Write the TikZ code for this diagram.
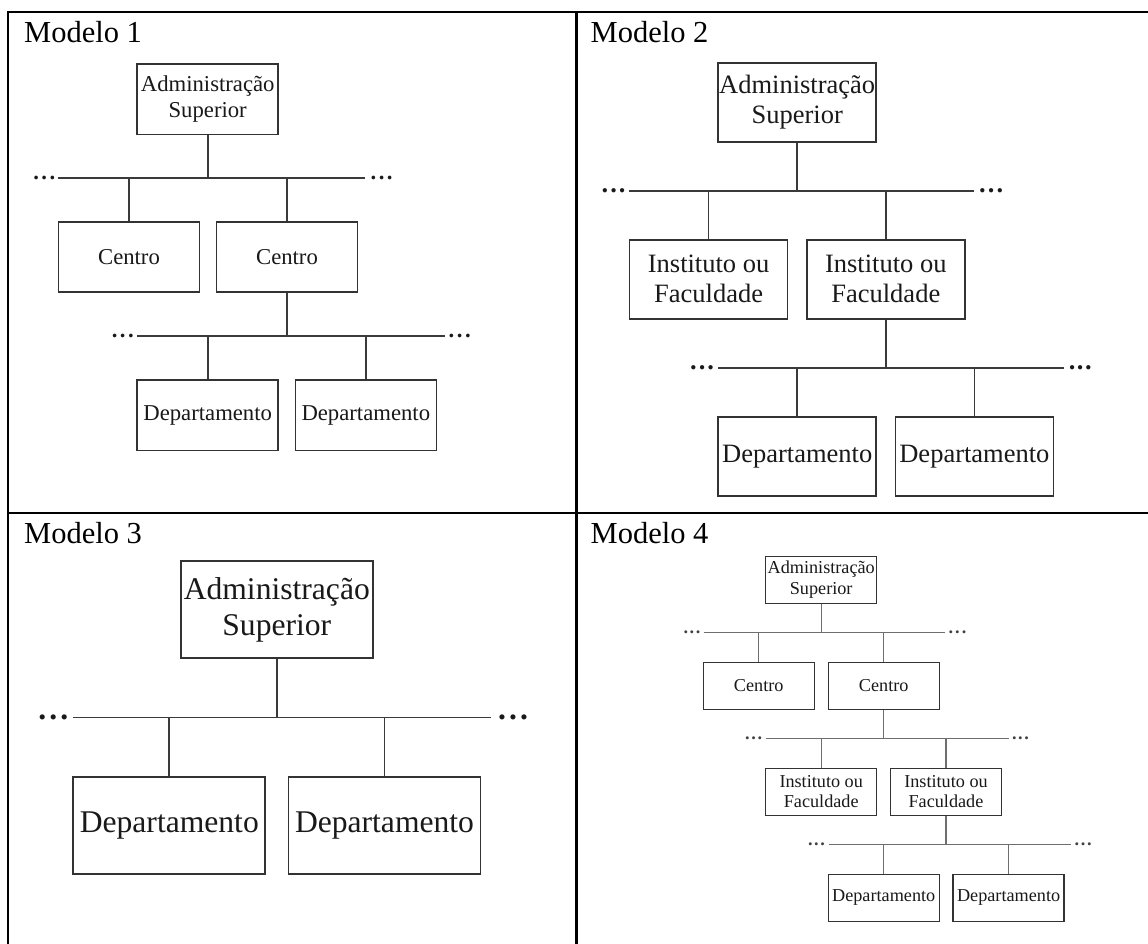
\documentclass[tikz,border=0pt]{standalone}
\usepackage{fontspec}
\setmainfont{Liberation Serif}
\usetikzlibrary{calc}

\definecolor{boxgray}{HTML}{333333}
\definecolor{linkgray}{HTML}{3A3A3A}
\definecolor{linkgrayD}{HTML}{6E6E6E}

\tikzset{
  frame/.style={line width=2.6pt, black},
  title/.style={anchor=base west, inner sep=0pt, font=\fontsize{30.5}{34}\selectfont},
  orgbox/.style={draw=boxgray, rectangle, inner sep=0pt, align=center, text=black!90},
  boxA/.style={orgbox, line width=1.6pt, minimum width=141pt, minimum height=70.5pt, font=\fontsize{22.7}{26}\selectfont},
  boxB/.style={orgbox, line width=1.7pt, minimum width=158pt, minimum height=79pt, font=\fontsize{26.5}{30}\selectfont},
  boxC/.style={orgbox, line width=1.8pt, minimum width=192pt, minimum height=97pt, font=\fontsize{31.6}{36}\selectfont},
  boxD/.style={orgbox, line width=1.3pt, minimum width=111pt, minimum height=47pt, font=\fontsize{18.2}{20.5}\selectfont},
  linkA/.style={draw=linkgray, line width=1.6pt},
  linkB/.style={draw=linkgray, line width=1.7pt},
  linkC/.style={draw=linkgray, line width=1.8pt},
  linkD/.style={draw=linkgrayD, line width=1.3pt},
  dotsA/.style={inner sep=0pt, text=black!90, font=\bfseries\fontsize{22.7}{26}\selectfont},
  dotsB/.style={inner sep=0pt, text=black!90, font=\bfseries\fontsize{26.5}{30}\selectfont},
  dotsC/.style={inner sep=0pt, text=black!90, font=\bfseries\fontsize{31.6}{36}\selectfont},
  dotsD/.style={inner sep=0pt, text=black!75, font=\bfseries\fontsize{18.2}{20.5}\selectfont},
}

% three spread full stops of a given width
\newcommand{\spreaddots}[1]{\makebox[#1][s]{.\hfill.\hfill.}}

\begin{document}
\begin{tikzpicture}[x=1pt, y=-1pt]
\useasboundingbox (0,0) rectangle (1148,944);
\fill[white] (0,0) rectangle (1148,944);

% ---------- table frame ----------
\draw[frame] (8,944) -- (8,12) -- (1148,12);
\draw[frame] (576.5,12) -- (576.5,944);
\draw[frame] (8,513) -- (1148,513);

% ---------- titles ----------
\node[title] (t1) at (24,43) {Modelo 1};
\node[title] (t2) at (590.5,43) {Modelo 2};
\node[title] (t3) at (24,543) {Modelo 3};
\node[title] (t4) at (590.5,543) {Modelo 4};

% ================= Modelo 1 =================
\node[boxA] (a1) at (207.7,99.2) {Administração\\Superior};
\node[boxA] (c1a) at (129,257) {Centro};
\node[boxA] (c1b) at (287,257) {Centro};
\node[boxA] (d1a) at (207.7,415.3) {Departamento};
\node[boxA] (d1b) at (365.8,415.3) {Departamento};
\coordinate (b1L) at (57.7,178);
\coordinate (b1R) at (365.4,178);
\coordinate (b2L) at (137,336);
\coordinate (b2R) at (445,336);
\path[linkA] (a1.south) -- (a1.south |- b1L);
\path[linkA] (b1L) -- (b1R);
\path[linkA] (c1a.north) -- (c1a.north |- b1L);
\path[linkA] (c1b.north) -- (c1b.north |- b1L);
\path[linkA] (c1b.south) -- (c1b.south |- b2L);
\path[linkA] (b2L) -- (b2R);
\path[linkA] (d1a.north) -- (d1a.north |- b2L);
\path[linkA] (d1b.north) -- (d1b.north |- b2L);
\node[dotsA, anchor=base east] at ($(b1L)+(-2.2,1.4)$) {\spreaddots{22pt}};
\node[dotsA, anchor=base west] at ($(b1R)+(5,1.4)$) {\spreaddots{22pt}};
\node[dotsA, anchor=base east] at ($(b2L)+(-3,1.4)$) {\spreaddots{22pt}};
\node[dotsA, anchor=base west] at ($(b2R)+(3.5,1.4)$) {\spreaddots{22pt}};

% ================= Modelo 2 =================
\node[boxB] (a2) at (797.2,102.2) {Administração\\Superior};
\node[boxB] (i2a) at (708.6,279.2) {Instituto ou\\Faculdade};
\node[boxB] (i2b) at (885.8,279.2) {Instituto ou\\Faculdade};
\node[boxB] (d2a) at (797.2,456.3) {Departamento};
\node[boxB] (d2b) at (974.4,456.3) {Departamento};
\coordinate (e1L) at (628.8,190.7);
\coordinate (e1R) at (974,190.7);
\coordinate (e2L) at (718.3,367.7);
\coordinate (e2R) at (1063.6,367.7);
\path[linkB] (a2.south) -- (a2.south |- e1L);
\path[linkB] (e1L) -- (e1R);
\path[linkB] (i2a.north) -- (i2a.north |- e1L);
\path[linkB] (i2b.north) -- (i2b.north |- e1L);
\path[linkB] (i2b.south) -- (i2b.south |- e2L);
\path[linkB] (e2L) -- (e2R);
\path[linkB] (d2a.north) -- (d2a.north |- e2L);
\path[linkB] (d2b.north) -- (d2b.north |- e2L);
\node[dotsB, anchor=base east] at ($(e1L)+(-3,1.6)$) {\spreaddots{24pt}};
\node[dotsB, anchor=base west] at ($(e1R)+(5,1.6)$) {\spreaddots{24pt}};
\node[dotsB, anchor=base east] at ($(e2L)+(-4,1.6)$) {\spreaddots{24pt}};
\node[dotsB, anchor=base west] at ($(e2R)+(5,1.6)$) {\spreaddots{23pt}};

% ================= Modelo 3 =================
\node[boxC] (a3) at (276.8,609.5) {Administração\\Superior};
\node[boxC] (d3a) at (169.3,825.7) {Departamento};
\node[boxC] (d3b) at (384.5,825.7) {Departamento};
\coordinate (g1L) at (73,717.5);
\coordinate (g1R) at (491.4,717.5);
\path[linkC] (a3.south) -- (a3.south |- g1L);
\path[linkC] (g1L) -- (g1R);
\path[linkC] (d3a.north) -- (d3a.north |- g1L);
\path[linkC] (d3b.north) -- (d3b.north |- g1L);
\node[dotsC, anchor=base east] at ($(g1L)+(-4.5,1.9)$) {\spreaddots{30pt}};
\node[dotsC, anchor=base west] at ($(g1R)+(6.5,1.9)$) {\spreaddots{30pt}};

% ================= Modelo 4 =================
\node[boxD] (a4) at (821.2,579.7) {Administração\\Superior};
\node[boxD] (c4a) at (758.7,686) {Centro};
\node[boxD] (c4b) at (883.7,686) {Centro};
\node[boxD] (i4a) at (821.2,791.8) {Instituto ou\\Faculdade};
\node[boxD] (i4b) at (946,791.8) {Instituto ou\\Faculdade};
\node[boxD] (d4a) at (883.7,897.7) {Departamento};
\node[boxD] (d4b) at (1008.6,897.7) {Departamento};
\coordinate (h1L) at (703.7,632.7);
\coordinate (h1R) at (944.8,632.7);
\coordinate (h2L) at (765.8,738.7);
\coordinate (h2R) at (1008.8,738.7);
\coordinate (h3L) at (828.7,844.5);
\coordinate (h3R) at (1070.9,844.5);
\path[linkD] (a4.south) -- (a4.south |- h1L);
\path[linkD] (h1L) -- (h1R);
\path[linkD] (c4a.north) -- (c4a.north |- h1L);
\path[linkD] (c4b.north) -- (c4b.north |- h1L);
\path[linkD] (c4b.south) -- (c4b.south |- h2L);
\path[linkD] (h2L) -- (h2R);
\path[linkD] (i4a.north) -- (i4a.north |- h2L);
\path[linkD] (i4b.north) -- (i4b.north |- h2L);
\path[linkD] (i4b.south) -- (i4b.south |- h3L);
\path[linkD] (h3L) -- (h3R);
\path[linkD] (d4a.north) -- (d4a.north |- h3L);
\path[linkD] (d4b.north) -- (d4b.north |- h3L);
\node[dotsD, anchor=base east] at ($(h1L)+(-3,1.1)$) {\spreaddots{17pt}};
\node[dotsD, anchor=base west] at ($(h1R)+(3.5,1.1)$) {\spreaddots{18pt}};
\node[dotsD, anchor=base east] at ($(h2L)+(-3.5,1.1)$) {\spreaddots{17pt}};
\node[dotsD, anchor=base west] at ($(h2R)+(3,1.1)$) {\spreaddots{17pt}};
\node[dotsD, anchor=base east] at ($(h3L)+(-3.5,1.1)$) {\spreaddots{17pt}};
\node[dotsD, anchor=base west] at ($(h3R)+(3.5,1.1)$) {\spreaddots{17pt}};

\end{tikzpicture}
\end{document}
